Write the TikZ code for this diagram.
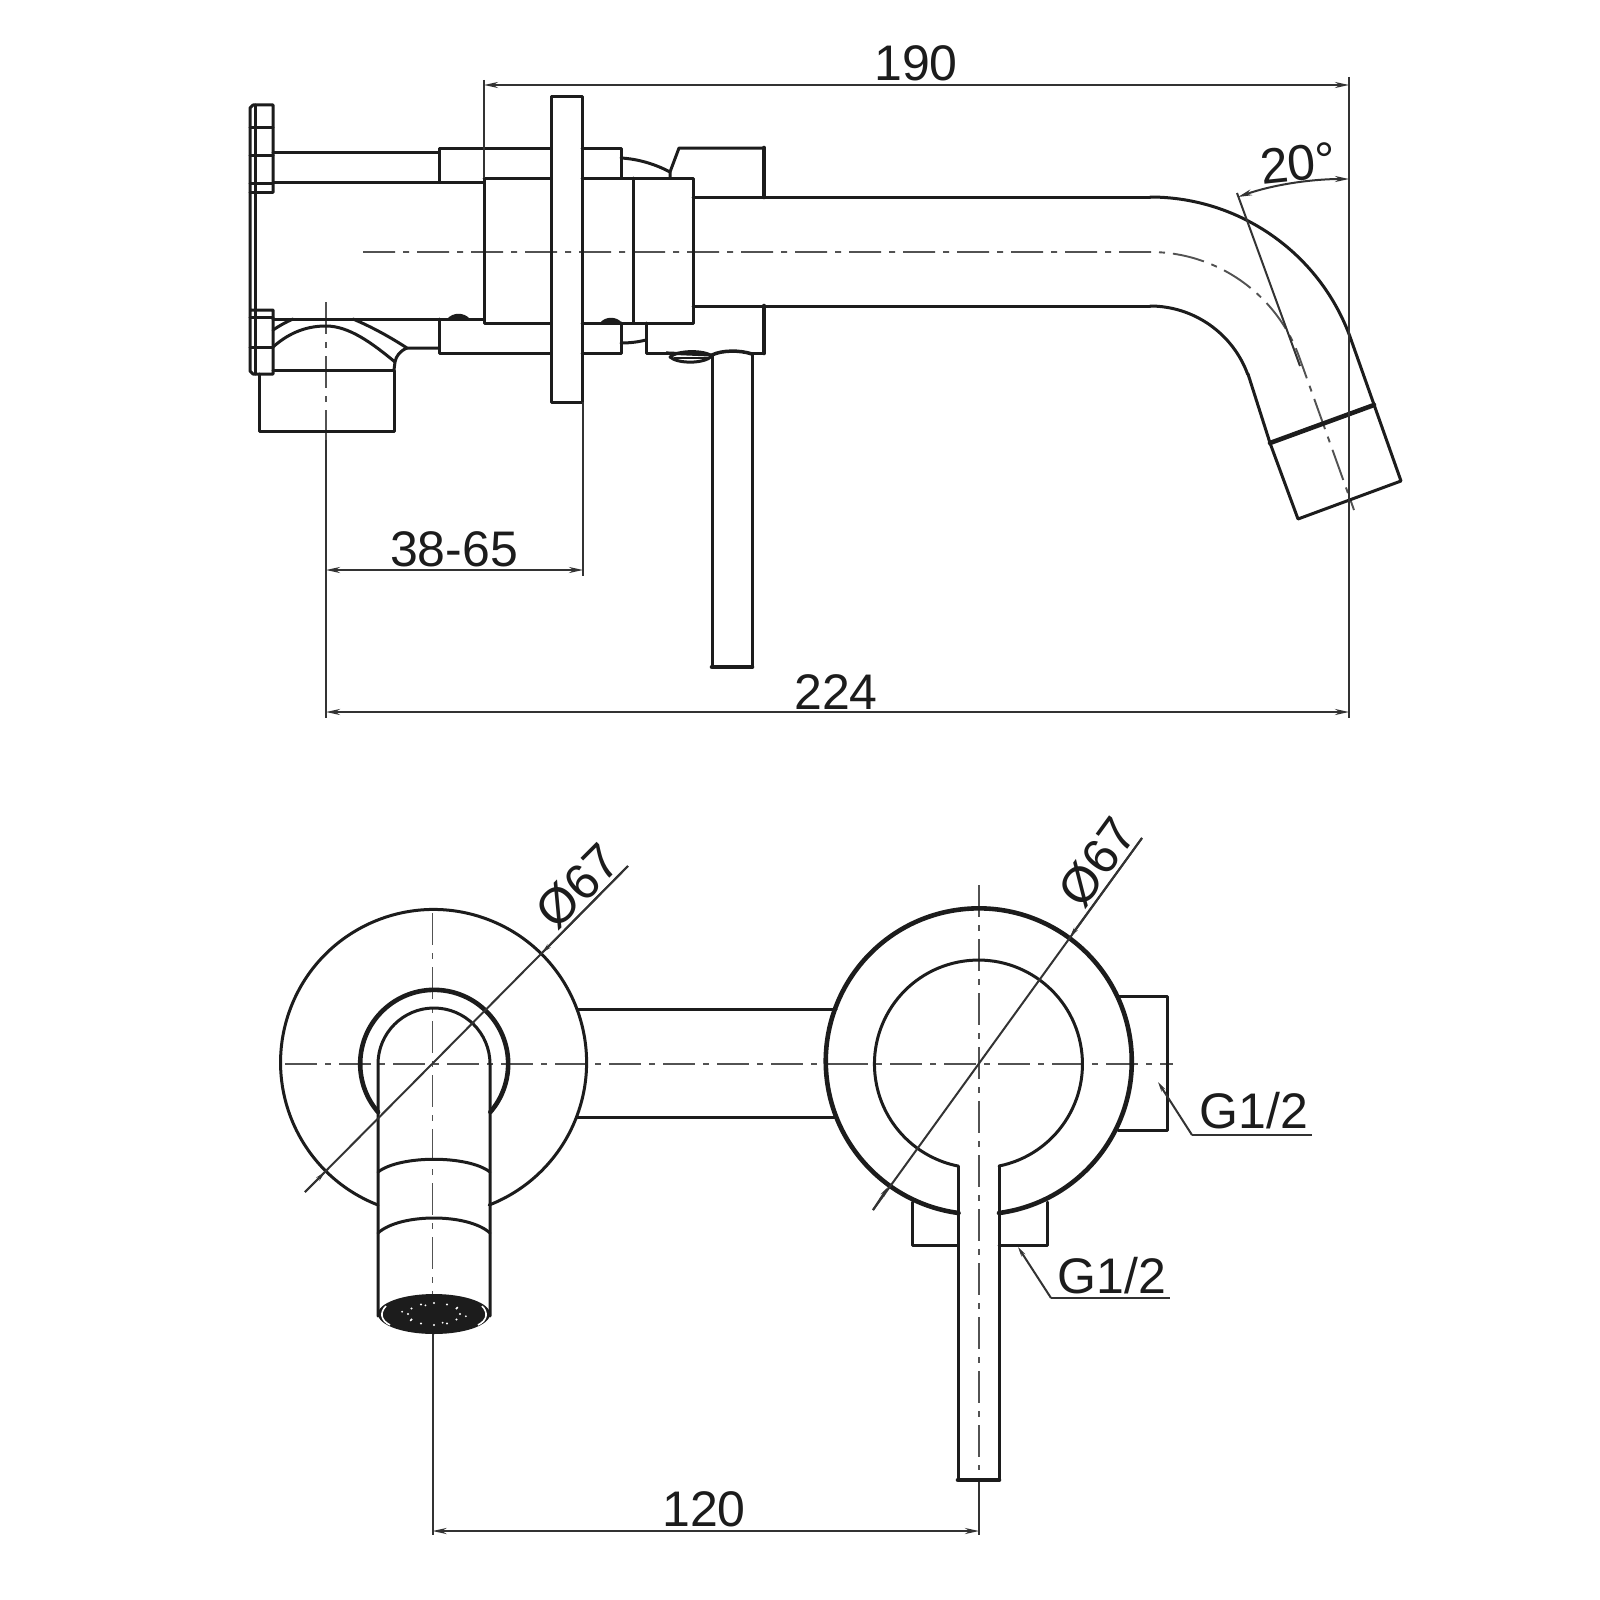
\documentclass[tikz,border=0pt]{standalone}
\usepackage{fontspec}
\setmainfont{Liberation Sans}
\usetikzlibrary{arrows.meta}
\definecolor{ink}{HTML}{1C1C1C}
\definecolor{dimc}{HTML}{333333}
\tikzset{
  obj/.style={line width=3pt,color=ink,line cap=round,line join=round},
  objk/.style={line width=4.6pt,color=ink,line cap=round,line join=round},
  thinl/.style={line width=2pt,color=dimc},
  ctr/.style={line width=1.9pt,color=dimc!85,dash pattern=on 32pt off 8pt on 6pt off 8pt},
  tip/.style={-{Stealth[length=14pt,width=6pt]}},
  tips/.style={{Stealth[length=14pt,width=6pt]}-{Stealth[length=14pt,width=6pt]}},
  smalltip/.style={-{Stealth[length=10pt,width=4.5pt]}},
  lab/.style={inner sep=0pt,anchor=base,color=ink,font=\fontsize{50}{50}\selectfont},
}
\begin{document}
\begin{tikzpicture}[x=1pt,y=-1pt]
\useasboundingbox (0,0) rectangle (1600,1600);
\fill[white] (0,0) rectangle (1600,1600);

% ---------- side view: centre lines ----------
\draw[ctr] (363,252) -- (1150,252) arc[start angle=-90,end angle=-20,radius=158.5] -- (1354,510);
\draw[ctr] (326,302) -- (326,440);
\draw[thinl] (326,440) -- (326,718);

% ---------- flange ----------
\draw[obj] (273,192) -- (273,105) -- (253,105) -- (250,108) -- (250,371) -- (253,374) -- (273,374) -- (273,310) -- (250,310);
\draw[obj] (255,105) -- (255,374);
\draw[obj] (273,192) -- (250,192);
\foreach \yy in {128,155,183,317,347}{\draw[obj] (250,\yy) -- (273,\yy);}

% ---------- rear body ----------
\draw[obj] (273,152) -- (439,152);
\draw[obj] (273,182) -- (484,182);
\draw[obj] (273,319) -- (484,319);
\draw[obj] (439,182) -- (439,148) -- (551,148);
\draw[obj] (484,178) -- (551,178);
\draw[obj] (484,178) -- (484,323) -- (551,323);
\draw[obj] (439,319) -- (439,353) -- (551,353);
\fill[ink] (447,319) .. controls (453,312) and (464,312) .. (470,319) -- cycle;

% lower connector
\draw[obj] (273,330) .. controls (279,326) and (286,322) .. (293,319);
\draw[obj] (353,319) .. controls (372,327) and (390,337) .. (407,348) -- (439,348);
\draw[obj] (273,347) .. controls (291,331) and (309,326) .. (326,326) .. controls (349,326) and (372,343) .. (395,362);
\draw[obj] (407,348) .. controls (400,351) and (396,356) .. (395,362) -- (394,370);
\draw[obj] (273,370) -- (394,370) -- (394,431) -- (259,431) -- (259,374);

% ---------- wall plate ----------
\draw[obj] (551,97) rectangle (582,402);

% ---------- valve body ----------
\draw[obj] (582,148) -- (621,148) -- (621,178);
\draw[obj] (582,178) -- (693,178) -- (693,323) -- (582,323);
\draw[obj] (633,178) -- (633,323);
\draw[obj] (582,353) -- (621,353) -- (621,323);
\draw[obj] (621,158) .. controls (638,159) and (655,164) .. (670,172);
\draw[obj] (670,178) -- (670,172) -- (679,148) -- (764,148);
\draw[objk] (764,148) -- (764,197);
\draw[obj] (693,197) -- (1150,197);
\draw[obj] (693,306) -- (1150,306);
\draw[objk] (764,306) -- (764,353);
\draw[obj] (646,323) -- (646,353) -- (670,353);
\draw[obj] (752,353) -- (764,353);
\draw[obj] (621,343) .. controls (630,343) and (638,342) .. (646,340);
\fill[ink] (600,323) .. controls (605,316) and (617,316) .. (622,323) -- cycle;

% lever stub
\draw[obj,fill=white] (670,357) .. controls (678,350) and (704,350) .. (712,356) .. controls (704,364) and (678,364) .. (670,357) -- cycle;
\draw[line width=3.2pt,color=ink] (666,353) -- (712,355);
\draw[line width=1.4pt,color=ink] (674,358) -- (708,358);
\draw[line width=3.5pt,color=ink] (712,355) .. controls (722,350) and (740,350) .. (752,354);
\draw[obj] (712,355) -- (712,667);
\draw[obj] (752,354) -- (752,667);
\draw[objk] (712,667) -- (752,667);

% ---------- spout ----------
\draw[obj] (1150,197) arc[start angle=-90,end angle=-20,radius=213] -- (1401,481) -- (1298,519) -- (1270,443) -- (1248,374);
\draw[obj] (1150,306) arc[start angle=-90,end angle=-20,radius=104];
\draw[objk] (1270,443) -- (1374,405);

% ---------- side view: dimensions ----------
\draw[thinl] (484,80) -- (484,178);
\draw[thinl] (1349,77) -- (1349,718);
\draw[thinl] (583,402) -- (583,576);
\draw[thinl,tips] (484,85) -- (1349,85);
\draw[thinl,tips] (326,570) -- (583,570);
\draw[thinl,tips] (326,712) -- (1349,712);
\draw[thinl] (1237,193) -- (1300,366);
\draw[thinl,tips] (1238,197) .. controls (1272,185) and (1310,179) .. (1349,179);
\node[lab] (t190) at (916,81) {190};
\node[lab] (t3865) at (454,566) {38-65};
\node[lab] (t224) at (836,709) {224};
\node[lab,rotate=6,anchor=center] (t20) at (1298,163) {20°};

% ---------- front view: left rosette ----------
\draw[ctr] (285,1064) -- (836,1064);
\draw[ctr] (432.5,913) -- (432.5,1300);
\draw[thinl] (432.5,1330) -- (432.5,1535);
\draw[obj] (378,1205) arc[start angle=111.3,end angle=428.7,radius=153];
\draw[objk] (378,1112) arc[start angle=139.4,end angle=400.6,radius=74];
\draw[obj] (378,1316) -- (378,1064) arc[start angle=180,end angle=360,radius=56] -- (490,1316);
\draw[obj] (378,1172) .. controls (400,1155) and (468,1155) .. (490,1172);
\draw[obj] (378,1233) .. controls (400,1213) and (468,1213) .. (490,1233);
\draw[obj] (577,1009) -- (836,1009);
\draw[obj] (577,1117) -- (836,1117);

% aerator
\fill[ink] (434,1314) ellipse[x radius=56,y radius=20];
\draw[white,line width=1.6pt] (386,1306) .. controls (380,1312) and (380,1320) .. (390,1325);
\draw[white,line width=1.6pt] (482,1306) .. controls (488,1312) and (488,1320) .. (478,1325);
\foreach \aa in {0,30,...,330}{\fill[white] ({434+26*cos(\aa)},{1314+11*sin(\aa)}) circle[radius=1.2];}
\foreach \aa in {15,75,...,345}{\fill[white] ({434+33*cos(\aa)},{1314+9*sin(\aa)}) circle[radius=1];}

% left diameter
\draw[thinl] (432,1064) -- (628,866);
\draw[thinl] (432,1064) -- (305,1192);
\draw[thinl,smalltip] (305,1192) -- (325,1172);
\draw[thinl,smalltip] (628,866) -- (542,953);
\node[lab,rotate=45,anchor=center] (tphi1) at (578,886) {Ø67};

% ---------- front view: right rosette ----------
\draw[ctr] (836,1064) -- (1173,1064);
\draw[ctr] (979,885) -- (979,1470);
\draw[thinl] (979,1480) -- (979,1535);
\draw[objk] (999,1213) arc[start angle=82.4,end angle=-262.4,radius=153];
\draw[obj] (999,1166) arc[start angle=78.6,end angle=-258.6,radius=104];
\draw[obj] (1117,996) -- (1167,996) -- (1167,1130) -- (1118,1130);
\draw[obj] (912,1202) -- (912,1245) -- (958,1245);
\draw[obj] (999,1245) -- (1047,1245) -- (1047,1202);
\draw[obj] (958,1166) -- (958,1480);
\draw[obj] (999,1166) -- (999,1480);
\draw[objk] (958,1480) -- (999,1480);

% right diameter
\draw[thinl] (873,1210) -- (1142,838);
\draw[thinl,smalltip] (873,1210) -- (888,1187);
\draw[thinl,smalltip] (1142,838) -- (1070,937);
\node[lab,rotate=54,anchor=center] (tphi2) at (1097,862) {Ø67};

% ---------- leaders ----------
\draw[thinl,smalltip] (1192,1135) -- (1158,1082);
\draw[thinl] (1192,1135) -- (1312,1135);
\node[lab] (tg1) at (1254,1128) {G1/2};
\draw[thinl,smalltip] (1051,1298) -- (1018,1247);
\draw[thinl] (1051,1298) -- (1170,1298);
\node[lab] (tg2) at (1112,1293) {G1/2};

% ---------- 120 ----------
\draw[thinl,tips] (432.5,1531) -- (979,1531);
\node[lab] (t120) at (704,1526) {120};
\end{tikzpicture}
\end{document}
